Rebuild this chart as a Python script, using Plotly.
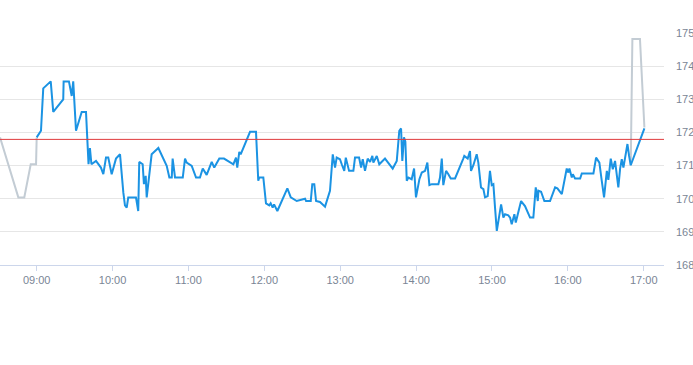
import pandas as pd
import plotly.graph_objects as go

DAY = "2024-01-02"
OPEN = pd.Timestamp(f"{DAY} 09:00")

# Pre-market (minutes relative to 09:00, price)
pre_min = [-29.0, -14.5, -9.8, -4.7, -0.5, 0.0]
pre_val = [171.85, 170.04, 170.04, 171.04, 171.04, 171.85]

# Regular session (minutes after 09:00, price)
reg_min = [0, 3.4, 5.2, 11.1, 13.1, 21.0, 21.3, 25.5, 27.7, 28.9, 31.1, 35.6, 39.0, 41.0, 42.1, 43.3,
           46.9, 48.7, 50.8, 52.7, 54.8, 56.6, 59.3, 62.7, 65.9, 68.5, 69.8, 71.2, 72.4, 78.5, 80.3,
           81.1, 83.8, 84.8, 86.2, 87.0, 89.0, 90.9, 96.2, 102.8, 104.9, 106.8, 107.5, 109.4, 115.5,
           117.3, 118.6, 122.6, 126.0, 129.1, 131.3, 134.4, 138.4, 140.4, 144.4, 148.1, 155.5, 157.6,
           158.6, 160.2, 161.3, 168.7, 173.4, 175.2, 176.0, 179.2, 181.3, 183.9, 185.0, 186.6, 187.7,
           190.3, 198.2, 200.9, 205.6, 212.2, 213.0, 216.7, 217.9, 219.5, 220.9, 224.0, 228.0, 231.9,
           234.1, 235.9, 237.2, 239.8, 241.2, 243.2, 244.4, 247.0, 250.4, 251.7, 254.9, 256.5, 257.8,
           259.6, 261.7, 263.6, 265.4, 266.2, 268.9, 270.9, 275.4, 278.0, 281.5, 284.7, 286.7, 288.1,
           289.1, 290.4, 291.5, 292.6, 293.9, 296.5, 298.4, 299.9, 302.6, 304.5, 307.1, 308.9, 310.5,
           312.4, 317.6, 318.9, 320.3, 321.5, 323.7, 325.5, 327.4, 330.8, 334.7, 337.3, 338.1, 340.8,
           342.6, 343.4, 345.3, 347.9, 349.2, 351.3, 353.2, 354.5, 356.6, 358.4, 359.8, 361.1, 362.4,
           363.8, 367.2, 369.0, 370.3, 372.9, 374.3, 375.6, 377.7, 378.8, 380.4, 383.0, 386.1, 390.1,
           392.7, 394.6, 396.2, 396.7, 398.8, 401.4, 402.8, 405.9, 409.9, 411.7, 415.2, 419.1, 420.4,
           421.2, 423.1, 423.9, 425.7, 429.7, 431.0, 440.2, 442.3, 444.9, 446.8, 448.6, 450.8, 452.0,
           453.9, 455.5, 457.3, 459.9, 461.3, 462.6, 463.9, 465.2, 467.1, 468.4, 469.7, 480.5]
reg_val = [171.85, 172.05, 173.33, 173.54, 172.62, 173.0, 173.54, 173.54, 173.1, 173.54, 172.05, 172.62,
           172.62, 171.04, 171.53, 171.04, 171.14, 171.06, 170.94, 170.74, 171.24, 171.24, 170.74,
           171.21, 171.34, 170.19, 169.80, 169.73, 170.04, 170.04, 169.63, 171.11, 171.04, 170.44,
           170.69, 170.04, 170.69, 171.34, 171.53, 170.99, 170.64, 170.64, 171.21, 170.64, 170.64,
           171.21, 171.09, 170.99, 170.64, 170.64, 170.91, 170.72, 171.11, 170.94, 171.21, 171.21,
           171.04, 171.24, 170.94, 171.41, 171.34, 172.02, 172.02, 170.54, 170.64, 170.64, 169.86,
           169.80, 169.86, 169.73, 169.83, 169.63, 170.31, 170.04, 169.93, 170.0, 169.93, 169.93,
           170.44, 170.44, 169.93, 169.90, 169.76, 170.24, 171.34, 170.94, 171.24, 171.19, 171.04,
           170.84, 171.24, 170.84, 170.84, 171.24, 171.24, 170.94, 171.19, 170.84, 171.21, 171.11,
           171.29, 171.09, 171.29, 171.04, 171.21, 171.09, 170.91, 171.14, 172.05, 172.12, 171.14,
           171.85, 171.72, 170.54, 170.64, 170.59, 170.91, 170.04, 170.59, 170.79, 170.84, 171.09,
           170.41, 170.44, 170.44, 170.64, 171.21, 170.41, 170.84, 170.74, 170.61, 170.61, 170.94,
           171.21, 171.29, 171.21, 171.44, 170.84, 171.01, 171.34, 171.09, 170.34, 170.29, 170.04,
           170.08, 170.84, 170.41, 170.44, 169.73, 169.03, 169.83, 169.43, 169.53, 169.50, 169.43,
           169.23, 169.53, 169.28, 169.53, 169.93, 169.78, 169.43, 169.43, 170.34, 169.93, 170.24,
           170.21, 169.93, 169.93, 169.93, 170.34, 170.31, 170.14, 170.91, 170.79, 170.91, 170.64,
           170.74, 170.61, 170.61, 170.76, 170.76, 171.24, 171.09, 170.54, 170.04, 170.84, 170.57,
           171.21, 170.89, 171.14, 170.34, 170.91, 171.19, 170.94, 171.21, 171.65, 171.29, 171.01,
           172.12]

# After-hours (minutes after 09:00, price)
post_min = [469.7, 471.0, 477.0, 480.5]
post_val = [171.01, 174.82, 174.82, 172.15]

PREV_CLOSE = 171.79

X_START = "08:31"
X_END = "17:16"
Y_RANGE = [168, 175]


def to_time(mins):
    return [OPEN + pd.Timedelta(minutes=m) for m in mins]


fig = go.Figure()
fig.add_trace(go.Scatter(x=to_time(pre_min), y=pre_val, mode="lines",
                         line=dict(color="#c3ccd4", width=2), hoverinfo="skip"))
fig.add_trace(go.Scatter(x=to_time(post_min), y=post_val, mode="lines",
                         line=dict(color="#c3ccd4", width=2), hoverinfo="skip"))
fig.add_trace(go.Scatter(x=to_time(reg_min), y=reg_val, mode="lines",
                         line=dict(color="#1b93e3", width=2)))

fig.add_shape(type="line", xref="paper", x0=0, x1=1, yref="y", y0=PREV_CLOSE, y1=PREV_CLOSE,
              line=dict(color="#e0393c", width=1))

fig.update_layout(
    width=693, height=365,
    margin=dict(l=0, r=29, t=33, b=100),
    paper_bgcolor="white", plot_bgcolor="white",
    showlegend=False,
    font=dict(family="Liberation Sans", size=11, color="#7a8595"),
    xaxis=dict(
        range=[f"{DAY} {X_START}", f"{DAY} {X_END}"],
        type="date", tickformat="%H:%M", dtick=3600000, tick0=f"{DAY} 09:00",
        showgrid=False, showline=True, linecolor="#ccd6eb", linewidth=1,
        ticks="outside", ticklen=5, tickcolor="#ccd6eb",
        zeroline=False,
    ),
    yaxis=dict(
        range=Y_RANGE, side="right", dtick=1,
        showgrid=True, gridcolor="#e6e6e6", gridwidth=1,
        zeroline=False, showline=False, ticks="",
        ticklabelstandoff=11,
    ),
)

fig.write_html("out.html", config={"displayModeBar": False},
               post_script="document.body.style.margin='0';")
